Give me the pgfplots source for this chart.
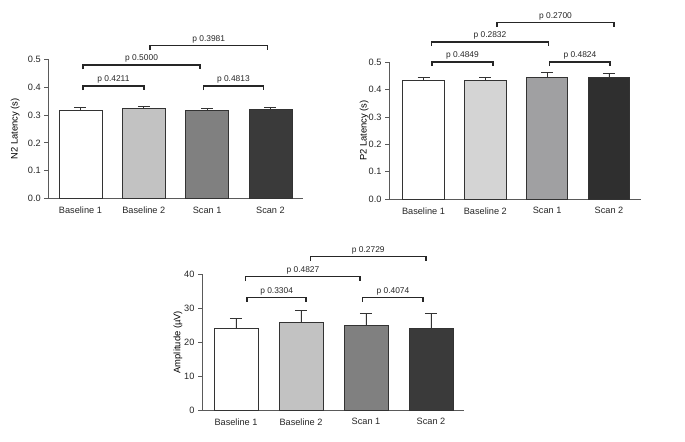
\documentclass[border=0pt]{standalone}
\usepackage{fontspec}
\setmainfont{Liberation Sans}
\usepackage{pgfplots}
\pgfplotsset{compat=1.18}
\definecolor{ca}{HTML}{C2C2C2}
\definecolor{cb}{HTML}{808080}
\definecolor{cc}{HTML}{3A3A3A}
\definecolor{da}{HTML}{D4D4D4}
\definecolor{db}{HTML}{A0A0A2}
\definecolor{dc}{HTML}{2F2F2F}
\definecolor{axc}{HTML}{5A5A5A}
\tikzset{plab/.style={anchor=south, inner sep=0.8bp, yshift=1.2bp, font=\fontsize{8.4bp}{9bp}\selectfont, text=black!85}}
\pgfplotsset{
  base/.style={
    scale only axis,
    anchor=south west,
    clip=false,
    axis x line*=bottom,
    axis y line*=left,
    axis line style={axc, line width=0.9bp},
    xtick={0,1,2,3},
    xticklabels={Baseline 1,Baseline 2,Scan 1,Scan 2},
    x tick style={draw=none},
    y tick style={axc, line width=0.9bp},
    tick align=outside,
    major tick length=4bp,
    ymin=0,
    /pgf/number format/assume math mode=true,
    tick label style={font=\fontsize{9.2bp}{10bp}\selectfont, text=black!85},
    x tick label style={yshift=-1bp},
    y label style={font=\fontsize{9.4bp}{11bp}\selectfont, anchor=center},
  },
  barp/.style={ybar, bar shift=0pt, draw=black!80, line width=0.8bp,
    error bars/y dir=plus, error bars/y explicit,
    error bars/error bar style={line width=0.9bp, black!80},
    error bars/error mark options={rotate=90, line width=0.9bp, black!80, mark size=6bp}},
  brk/.style={sharp plot, no marks, line width=1.5bp, black!85},
}
\begin{document}
\begin{tikzpicture}
\path[use as bounding box] (0,0) rectangle (685bp,442bp);
% ---------------- N2 latency
\begin{axis}[base, at={(48.3bp,243.3bp)}, width=254.4bp, height=139.4bp,
  xmin=-0.508, xmax=3.509, ymax=0.5, ytick={0,0.1,0.2,0.3,0.4,0.5},
  yticklabel style={/pgf/number format/.cd, fixed, fixed zerofill, precision=1},
  ylabel={N2 Latency (s)}, y label style={at={(axis description cs:-0.13,0.5)}}]
\addplot[barp, bar width=0.68, fill=white] coordinates {(0,0.318) +- (0,0.008)};
\addplot[barp, bar width=0.68, fill=ca] coordinates {(1,0.324) +- (0,0.008)};
\addplot[barp, bar width=0.68, fill=cb] coordinates {(2,0.316) +- (0,0.007)};
\addplot[barp, bar width=0.68, fill=cc] coordinates {(3,0.320) +- (0,0.006)};
\addplot[brk] coordinates {(0.04,0.389) (0.04,0.405) (1.00,0.405) (1.00,0.389)};
\node[plab] at (axis cs:0.52,0.405) {p 0.4211};
\addplot[brk] coordinates {(0.04,0.464) (0.04,0.480) (1.89,0.480) (1.89,0.464)};
\node[plab] at (axis cs:0.965,0.480) {p 0.5000};
\addplot[brk] coordinates {(1.10,0.533) (1.10,0.549) (2.95,0.549) (2.95,0.533)};
\node[plab] at (axis cs:2.025,0.549) {p 0.3981};
\addplot[brk] coordinates {(1.94,0.389) (1.94,0.405) (2.89,0.405) (2.89,0.389)};
\node[plab] at (axis cs:2.415,0.405) {p 0.4813};
\end{axis}
% ---------------- P2 latency
\begin{axis}[base, at={(389bp,243bp)}, width=251.7bp, height=136.7bp,
  xmin=-0.558, xmax=3.513, ymax=0.5, ytick={0,0.1,0.2,0.3,0.4,0.5},
  yticklabel style={/pgf/number format/.cd, fixed, fixed zerofill, precision=1},
  ylabel={P2 Latency (s)}, y label style={at={(axis description cs:-0.099,0.5)}}]
\addplot[barp, bar width=0.67, fill=white] coordinates {(0,0.432) +- (0,0.012)};
\addplot[barp, bar width=0.67, fill=da] coordinates {(1,0.432) +- (0,0.012)};
\addplot[barp, bar width=0.67, fill=db] coordinates {(2,0.445) +- (0,0.018)};
\addplot[barp, bar width=0.67, fill=dc] coordinates {(3,0.443) +- (0,0.015)};
\addplot[brk] coordinates {(0.14,0.486) (0.14,0.502) (1.12,0.502) (1.12,0.486)};
\node[plab] at (axis cs:0.63,0.502) {p 0.4849};
\addplot[brk] coordinates {(0.13,0.559) (0.13,0.575) (2.02,0.575) (2.02,0.559)};
\node[plab] at (axis cs:1.075,0.575) {p 0.2832};
\addplot[brk] coordinates {(1.19,0.629) (1.19,0.645) (3.08,0.645) (3.08,0.629)};
\node[plab] at (axis cs:2.135,0.645) {p 0.2700};
\addplot[brk] coordinates {(2.04,0.486) (2.04,0.502) (3.02,0.502) (3.02,0.486)};
\node[plab] at (axis cs:2.53,0.502) {p 0.4824};
\end{axis}
% ---------------- Amplitude
\begin{axis}[base, at={(202bp,32bp)}, width=262bp, height=135.7bp,
  xmin=-0.523, xmax=3.508, ymax=40, ytick={0,10,20,30,40},
  ylabel={Amplitude (µV)}, y label style={at={(axis description cs:-0.092,0.5)}}]
\addplot[barp, bar width=0.677, fill=white] coordinates {(0,24.1) +- (0,2.8)};
\addplot[barp, bar width=0.677, fill=ca] coordinates {(1,25.9) +- (0,3.3)};
\addplot[barp, bar width=0.677, fill=cb] coordinates {(2,24.8) +- (0,3.7)};
\addplot[barp, bar width=0.677, fill=cc] coordinates {(3,24.2) +- (0,4.2)};
\addplot[brk] coordinates {(0.17,31.9) (0.17,33.2) (1.08,33.2) (1.08,31.9)};
\node[plab] at (axis cs:0.625,33.2) {p 0.3304};
\addplot[brk] coordinates {(0.15,38.0) (0.15,39.3) (1.91,39.3) (1.91,38.0)};
\node[plab] at (axis cs:1.03,39.3) {p 0.4827};
\addplot[brk] coordinates {(1.15,43.9) (1.15,45.2) (2.92,45.2) (2.92,43.9)};
\node[plab] at (axis cs:2.035,45.2) {p 0.2729};
\addplot[brk] coordinates {(1.95,31.9) (1.95,33.2) (2.88,33.2) (2.88,31.9)};
\node[plab] at (axis cs:2.415,33.2) {p 0.4074};
\end{axis}
\end{tikzpicture}
\end{document}
